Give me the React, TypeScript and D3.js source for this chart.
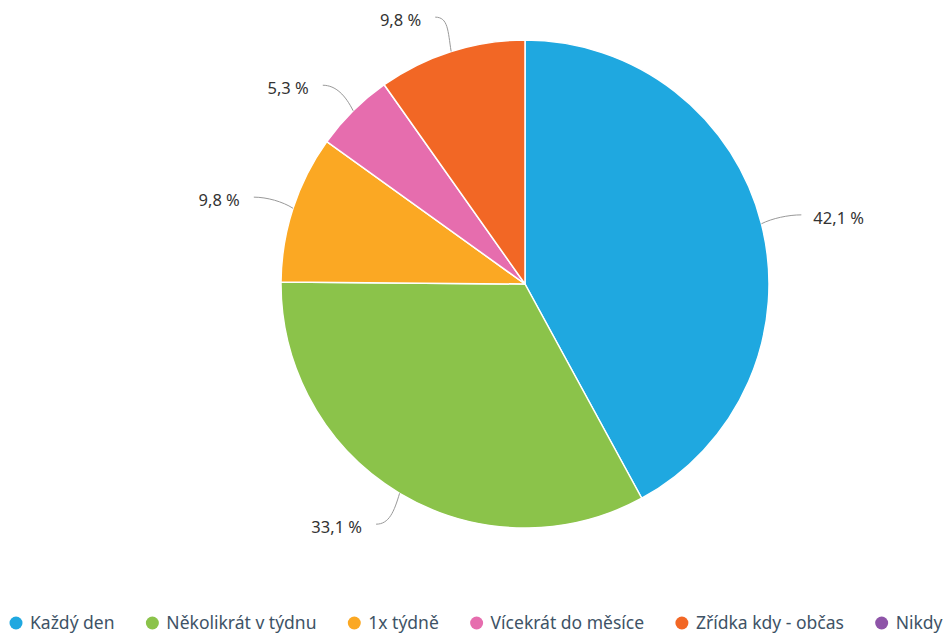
import React, {useEffect, useRef} from 'react';
import * as d3 from 'd3';

const categories = ['Každý den', 'Několikrát v týdnu', '1x týdně', 'Vícekrát do měsíce', 'Zřídka kdy - občas', 'Nikdy'];
const values = [42.1, 33.1, 9.8, 5.3, 9.8, 0];
const labels = ['42,1 %', '33,1 %', '9,8 %', '5,3 %', '9,8 %', '0 %'];
const colors = ['#1fa8e0', '#8bc34a', '#fba823', '#e66dae', '#f26725', '#8e54a8'];

const width = 947;
const height = 637;

export default function App() {
    const svgRef = useRef<SVGSVGElement>(null);

    useEffect(() => {
        const svg = d3.select(svgRef.current);
        svg.selectAll('*').remove();

        const cx = 525, cy = 284, radius = 244;
        const data = categories.map((c, i) => ({name: c, value: values[i], label: labels[i], color: colors[i]}));

        const pie = d3.pie<any>().sort(null).value(d => d.value)(data);
        const arc = d3.arc<any>().innerRadius(0).outerRadius(radius);

        const g = svg.append('g').attr('transform', `translate(${cx},${cy})`);

        g.selectAll('path.slice')
            .data(pie.filter(d => d.value > 0))
            .enter()
            .append('path')
            .attr('class', 'slice')
            .attr('d', arc)
            .attr('fill', d => d.data.color)
            .attr('stroke', '#fff')
            .attr('stroke-width', 1.5)
            .attr('stroke-linejoin', 'round');

        // data labels with soft connectors
        pie.filter(d => d.value > 0).forEach(d => {
            const a = (d.startAngle + d.endAngle) / 2;
            const dir = Math.sin(a) >= 0 ? 1 : -1;
            const ex = radius * Math.sin(a), ey = -radius * Math.cos(a);
            const lr = radius + 36;
            const lx = lr * Math.sin(a), ly = -lr * Math.cos(a);
            const endX = lx + dir * 5;
            g.append('path')
                .attr('d', `M${endX},${ly} C${lx - dir * 8},${ly} ${ex + (lx - ex) * 0.3},${ey + (ly - ey) * 0.6} ${ex},${ey}`)
                .attr('fill', 'none')
                .attr('stroke', '#999')
                .attr('stroke-width', 1);
            g.append('text')
                .attr('x', lx + dir * (dir > 0 ? 17 : 19))
                .attr('y', ly + 3)
                .attr('dy', '0.35em')
                .attr('text-anchor', dir > 0 ? 'start' : 'end')
                .attr('font-family', '"Noto Sans", sans-serif')
                .attr('font-size', 16.5)
                .attr('fill', '#333')
                .text(d.data.label);
        });

        // legend
        const legend = svg.append('g').attr('transform', `translate(0, 623)`);
        let x = 16;
        data.forEach(d => {
            const item = legend.append('g').attr('transform', `translate(${x},0)`);
            item.append('circle').attr('r', 6.5).attr('fill', d.color);
            const t = item.append('text')
                .attr('x', 14)
                .attr('dy', '0.35em')
                .attr('font-family', '"Noto Sans", sans-serif')
                .attr('font-size', 17.5)
                .attr('fill', '#3e5366')
                .text(d.name);
            const w = (t.node() as SVGTextElement).getComputedTextLength();
            x += 14 + w + 37.8;
        });
    }, []);

    return (
        <svg ref={svgRef} width={width} height={height} style={{position: 'absolute', left: 0, top: 0}}></svg>
    );
}
